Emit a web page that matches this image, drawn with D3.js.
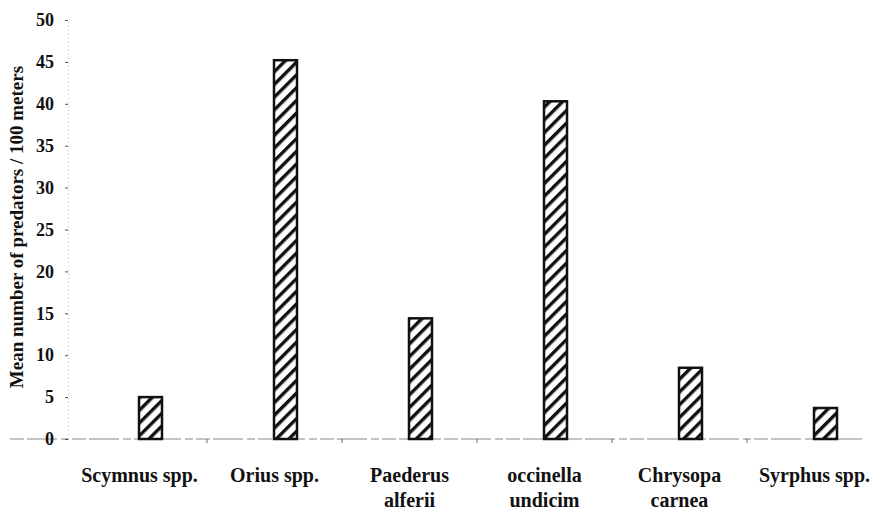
<!DOCTYPE html>
<html>
<head>
<meta charset="utf-8">
<script src="https://cdn.jsdelivr.net/npm/d3@7"></script>
<style>
  body { margin: 0; background: #fff; }
  text { font-family: "Liberation Serif", "Times New Roman", serif; font-weight: bold; fill: #111; }
</style>
</head>
<body>
<script>
// data
const species = ["Scymnus spp.", "Orius spp.", "Paederus alferii", "occinella undicim", "Chrysopa carnea", "Syrphus spp."];
const labelLines = [["Scymnus spp."], ["Orius spp."], ["Paederus", "alferii"], ["occinella", "undicim"], ["Chrysopa", "carnea"], ["Syrphus spp."]];
const predators = [5, 45.2, 14.4, 40.3, 8.5, 3.7];
const yTicks = [0, 5, 10, 15, 20, 25, 30, 35, 40, 45, 50];

const width = 872, height = 513;
const margin = {top: 20, right: -10, bottom: 74, left: 72};

const x = d3.scaleBand(species, [margin.left, width - margin.right]).padding(0);
const y = d3.scaleLinear([0, 50], [height - margin.bottom, margin.top]);
const barW = 23, barShift = 11;

const svg = d3.select("body").append("svg")
    .attr("width", width)
    .attr("height", height);

svg.append("defs").append("pattern")
    .attr("id", "hatch")
    .attr("patternUnits", "userSpaceOnUse")
    .attr("width", 9)
    .attr("height", 9)
    .attr("patternTransform", "rotate(45)")
  .append("rect")
    .attr("x", 0).attr("y", 0)
    .attr("width", 3.4).attr("height", 9)
    .attr("fill", "#111");

// baseline (faint, broken like the scan)
svg.append("line")
    .attr("x1", 10).attr("x2", 862)
    .attr("y1", y(0)).attr("y2", y(0))
    .attr("stroke", "#888")
    .attr("stroke-width", 1)
    .attr("stroke-dasharray", "14 3 30 4 8 3");

// y axis
const yAxis = svg.append("g")
    .attr("transform", `translate(${margin.left - 4},0)`)
    .call(d3.axisLeft(y).tickValues(yTicks).tickSize(3).tickPadding(11));
yAxis.select(".domain")
    .attr("stroke", "#bbb")
    .attr("stroke-dasharray", "1 3");
yAxis.selectAll(".tick line").attr("stroke", "#555");
yAxis.selectAll(".tick text")
    .style("font-size", "18px")
    .attr("fill", "#111");

// small separators on the category axis
svg.append("g")
  .selectAll("line")
  .data(species.slice(1))
  .join("line")
    .attr("x1", d => x(d)).attr("x2", d => x(d))
    .attr("y1", y(0)).attr("y2", y(0) + 4)
    .attr("stroke", "#666");

// bars
svg.append("g")
  .selectAll("rect")
  .data(species)
  .join("rect")
    .attr("x", d => x(d) + x.bandwidth() / 2 + barShift - barW / 2)
    .attr("y", (d, i) => y(predators[i]))
    .attr("width", barW)
    .attr("height", (d, i) => y(0) - y(predators[i]))
    .attr("fill", "url(#hatch)")
    .attr("stroke", "#111")
    .attr("stroke-width", 2.5);

// category labels
const lab = svg.append("g")
  .selectAll("text")
  .data(species)
  .join("text")
    .attr("text-anchor", "middle")
    .style("font-size", "20px")
    .attr("x", d => x(d) + x.bandwidth() / 2);
lab.selectAll("tspan")
  .data((d, i) => labelLines[i])
  .join("tspan")
    .attr("x", function() { return this.parentNode.getAttribute("x"); })
    .attr("y", (d, i) => 482 + i * 25)
    .text(d => d);

// y title
svg.append("text")
    .attr("transform", `translate(23,227) rotate(-90)`)
    .attr("text-anchor", "middle")
    .style("font-size", "19px")
    .text("Mean number of predators / 100 meters");
</script>
</body>
</html>
